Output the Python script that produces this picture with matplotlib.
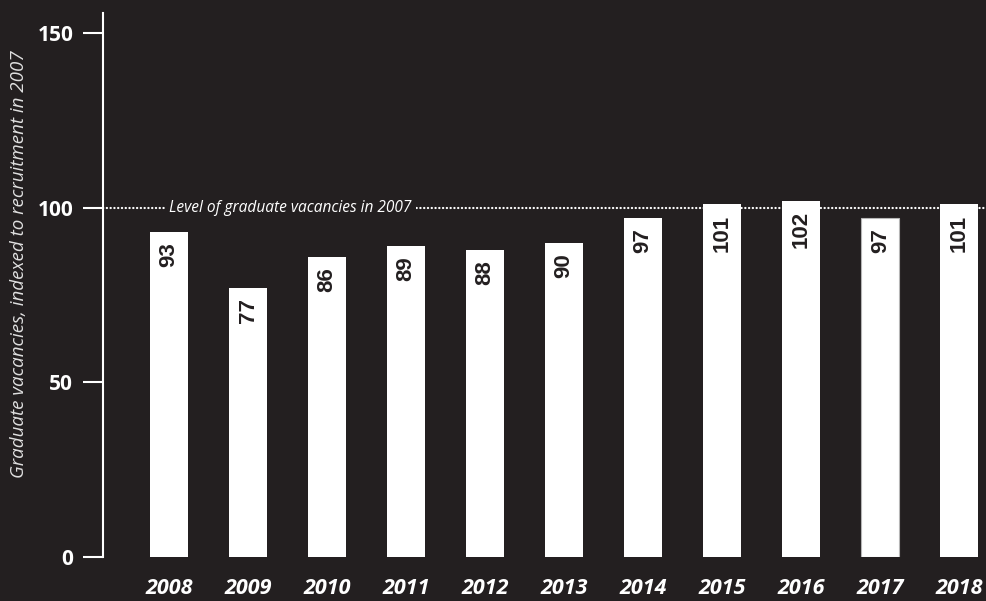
import matplotlib
matplotlib.use("Agg")
import matplotlib.pyplot as plt

# Graduate vacancies indexed to 2007 recruitment (2007 = 100)
years = ["2008", "2009", "2010", "2011", "2012", "2013",
         "2014", "2015", "2016", "2017", "2018"]
index_values = [93, 77, 86, 89, 88, 90, 97, 101, 102, 97, 101]
baseline = 100
baseline_label = "Level of graduate vacancies in 2007"
y_ticks = [0, 50, 100, 150]
y_title = "Graduate vacancies, indexed to recruitment in 2007"

bg = "#231f20"
fg = "white"

fig = plt.figure(figsize=(9.87, 6.01), dpi=100, facecolor=bg)
ax = fig.add_axes([0.1044, 0.0732, 0.8956, 0.9052])
ax.set_facecolor(bg)

x = list(range(len(years)))
bars = ax.bar(x, index_values, width=0.48, color="white", zorder=3)
bars[9].set_edgecolor("#b5b5b5")
bars[9].set_linewidth(0.8)

# value labels, written vertically inside the top of each bar
for xi, v in zip(x, index_values):
    ax.annotate(str(v), xy=(xi, v), xytext=(0, -7.5), textcoords="offset points",
                rotation=90, ha="center", va="top", color=bg,
                fontsize=16, fontweight="bold", family="Liberation Sans", zorder=4)

# dotted reference line at the 2007 level
ax.axhline(baseline, color=fg, linewidth=1.6, linestyle=(0, (0.1, 1.6)),
           dash_capstyle="round", zorder=2)
ax.text(0.0, baseline, baseline_label, ha="left", va="center", color=fg,
        fontsize=11.2, style="italic", family="Open Sans", zorder=2.5,
        bbox=dict(facecolor=bg, edgecolor="none", pad=3))

ax.set_xlim(-0.835, 10.35)
ax.set_ylim(0, 155.7)

ax.set_xticks(x)
ax.set_xticklabels(years, fontsize=15.5, style="italic", fontweight="bold",
                   family="Open Sans", color=fg)
ax.tick_params(axis="x", length=0, pad=15)

ax.set_yticks(y_ticks)
ax.set_yticklabels([str(t) for t in y_ticks], fontsize=15, fontweight="bold",
                   family="Open Sans", color=fg)
ax.tick_params(axis="y", length=14.5, width=1.5, color=fg, pad=7)

for side in ["top", "right", "bottom"]:
    ax.spines[side].set_visible(False)
ax.spines["left"].set_color(fg)
ax.spines["left"].set_linewidth(1.5)

fig.text(19 / 987, (601 - 264) / 601, y_title, rotation=90, ha="center", va="center",
         color="#e0e0e0", fontsize=13.5, style="italic", family="Open Sans")

fig.savefig("out.png", dpi=100, facecolor=bg)
